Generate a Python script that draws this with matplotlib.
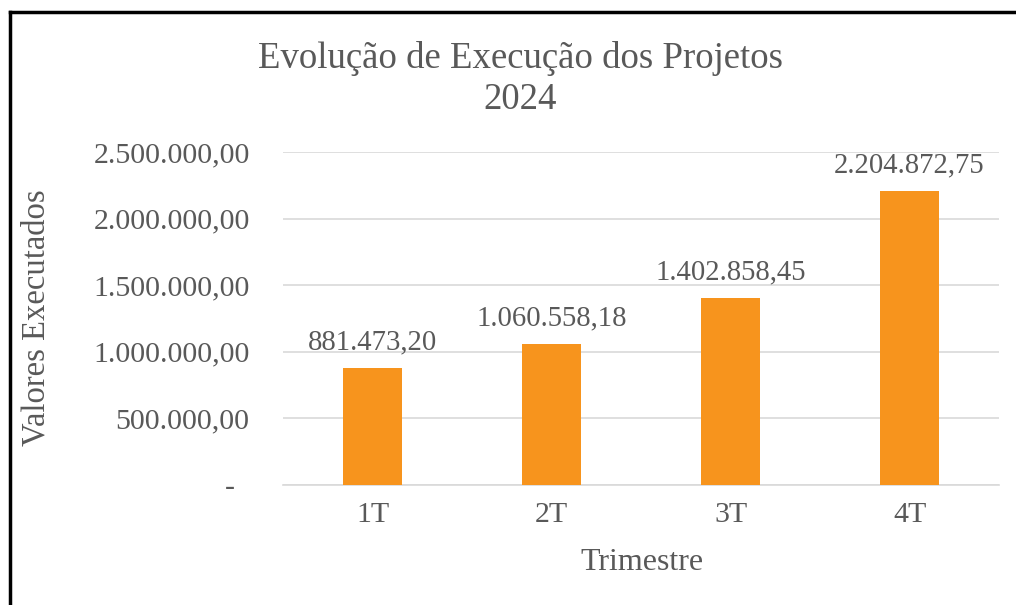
import matplotlib
matplotlib.use('Agg')
import matplotlib.pyplot as plt
from matplotlib.lines import Line2D
from matplotlib.ticker import FuncFormatter

# Data
trimestres = ['1T', '2T', '3T', '4T']
valores = [881473.20, 1060558.18, 1402858.45, 2204872.75]
y_ticks = [0, 500000, 1000000, 1500000, 2000000, 2500000]

plt.rcParams['font.family'] = ['Liberation Serif', 'DejaVu Serif']

TEXT = '#595959'
BAR = '#F7941D'
GRID = '#D9D9D9'


def br_fmt(v):
    s = f'{v:,.2f}'
    return s.replace(',', 'X').replace('.', ',').replace('X', '.')


def tick_fmt(v, pos):
    if v == 0:
        return '-  '
    return br_fmt(v)


fig = plt.figure(figsize=(10.16, 6.05), dpi=100)
ax = fig.add_axes([283 / 1016, 1 - 485 / 605, 716 / 1016, (485 - 152) / 605])

x = range(len(trimestres))
bars = ax.bar(x, valores, width=0.325, color=BAR, zorder=3)
for b, v in zip(bars, valores):
    ax.text(b.get_x() + b.get_width() / 2, v + 95000, br_fmt(v),
            ha='center', va='bottom', fontsize=20.7, color=TEXT)

ax.set_xlim(-0.5, 3.5)
ax.set_ylim(0, 2500000)
ax.set_xticks(list(x))
ax.set_xticklabels(trimestres)
ax.set_yticks(y_ticks)
ax.yaxis.set_major_formatter(FuncFormatter(tick_fmt))
ax.tick_params(axis='both', length=0, labelsize=21.5, colors=TEXT)
ax.tick_params(axis='y', pad=24)
ax.tick_params(axis='x', pad=12)
ax.grid(axis='y', color=GRID, lw=1.2, zorder=0)
for s in ['top', 'right', 'left']:
    ax.spines[s].set_visible(False)
ax.spines['bottom'].set_color(GRID)
ax.spines['bottom'].set_linewidth(1.2)

fig.text(642 / 1016, 1 - 563 / 605, 'Trimestre',
         ha='center', va='center', fontsize=23, color=TEXT)
fig.text(36 / 1016, 1 - 318 / 605, 'Valores Executados', rotation=90,
         ha='center', va='center', fontsize=23.5, color=TEXT)
fig.text(520 / 1016, 1 - 79 / 605, 'Evolução de Execução dos Projetos\n2024',
         ha='center', va='center', fontsize=26.5, color=TEXT, linespacing=1.25)

# outer frame (left and top edges visible)
fig.add_artist(Line2D([9.5 / 1016, 9.5 / 1016], [0, 1 - 12 / 605],
                      color='black', lw=2.5, transform=fig.transFigure))
fig.add_artist(Line2D([9.5 / 1016, 1], [1 - 12 / 605, 1 - 12 / 605],
                      color='black', lw=2.5, transform=fig.transFigure))

fig.savefig('out.png', dpi=100)
